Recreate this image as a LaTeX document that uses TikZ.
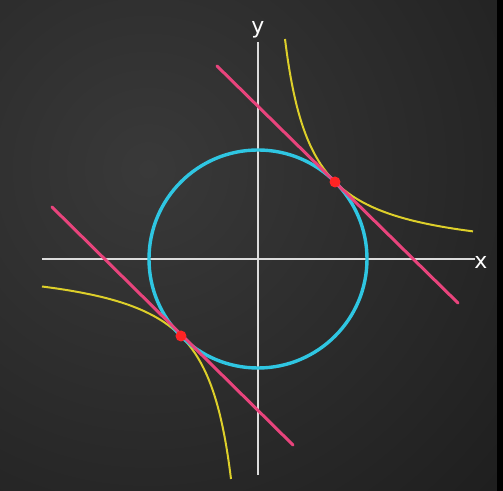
\documentclass[tikz,border=0pt]{standalone}
\usepackage{fontspec}
\setmainfont{DejaVu Sans}
\definecolor{board}{HTML}{1F1F1F}
\definecolor{boardlight}{HTML}{393939}
\definecolor{chalkcyan}{HTML}{2FC6E2}
\definecolor{chalkpink}{HTML}{E8447C}
\definecolor{chalkyellow}{HTML}{DDCF2A}
\definecolor{chalkred}{HTML}{FF2424}
\definecolor{chalkwhite}{HTML}{DCDCDC}
\begin{document}
\begin{tikzpicture}[x=0.5pt,y=0.5pt,
  axisline/.style={draw=chalkwhite,line width=1.4pt},
  circleline/.style={draw=chalkcyan,line width=1.7pt},
  tangentline/.style={draw=chalkpink,line width=1.5pt,line cap=round},
  hyperline/.style={draw=chalkyellow,line width=1pt},
  touchdot/.style={circle,fill=chalkred,inner sep=0pt,minimum size=5.5pt},
  axislabel/.style={text=white,font=\fontsize{11}{13}\selectfont,inner sep=0pt}]
% background
\useasboundingbox (-258,-232) rectangle (245,259);
\begin{scope}
\clip (-258,-232) rectangle (245,259);
\fill[board] (-258,-232) rectangle (245,259);
\shade[inner color=boardlight,outer color=board] (-110,90) circle (470);
\end{scope}
\fill[black] (239,-232) rectangle (245,259);
% axes
\coordinate (xl) at (-216,0);
\coordinate (xr) at (217,0);
\coordinate (yb) at (0,-216);
\coordinate (yt) at (0,217);
\draw[axisline] (xl) -- (xr);
\draw[axisline] (yb) -- (yt);
\node[axislabel] (xlab) at (223,-3) {x};
\node[axislabel] (ylab) at (0,229) {y};
% hyperbolas
\draw[hyperline] plot[smooth,samples=120,domain=27:215] (\x,{5940/\x});
\draw[hyperline] plot[smooth,samples=120,domain=-216:-27] (\x,{5940/\x});
% circle
\node[circle,circleline,minimum size=109pt,inner sep=0pt] (circ) at (0,0) {};
% tangent lines
\coordinate (t1a) at (-41,193);
\coordinate (t1b) at (200,-44);
\coordinate (t2a) at (-206,52);
\coordinate (t2b) at (35,-186);
\draw[tangentline] (t1a) -- (t1b);
\draw[tangentline] (t2a) -- (t2b);
% points of tangency
\node[touchdot] (p1) at (77,77) {};
\node[touchdot] (p2) at (-77,-77) {};
\end{tikzpicture}
\end{document}
